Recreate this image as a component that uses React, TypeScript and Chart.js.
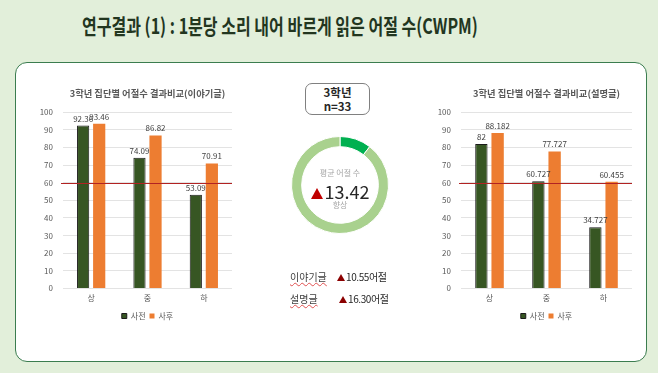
import React, { useEffect, useRef } from "react";
import { Chart, registerables } from "chart.js";
Chart.register(...registerables);

const pageTitle = "연구결과 (1) : 1분당 소리 내어 바르게 읽은 어절 수(CWPM)";
const categories = ["상", "중", "하"];
const seriesNames = ["사전", "사후"];
const storyTitle = "3학년 집단별 어절수 결과비교(이야기글)";
const storyPre = [92.36, 74.09, 53.09];
const storyPost = [93.46, 86.82, 70.91];
const expoTitle = "3학년 집단별 어절수 결과비교(설명글)";
const expoPre = [82, 60.727, 34.727];
const expoPost = [88.182, 77.727, 60.455];
const referenceValue = 60;
const yMax = 100;
const yStep = 10;
const gaugeValues = [10.5, 89.5];
const gaugeCenter = ["평균 어절 수", "13.42", "향상"];
const groupText = ["3학년", "n=33"];
const gainRows = [
  ["이야기글", "10.55어절"],
  ["설명글", "16.30어절"],
];

const FONT = "'Noto Sans CJK KR', 'Noto Sans', sans-serif";
const DARK = "#375623";
const ORANGE = "#ED7D31";

const valueLabelPlugin = {
  id: "valueLabels",
  afterDatasetsDraw(chart: any) {
    const ctx = chart.ctx;
    ctx.save();
    ctx.font = `8px ${FONT}`;
    ctx.fillStyle = "#404040";
    ctx.textAlign = "center";
    ctx.textBaseline = "bottom";
    chart.data.datasets.forEach((ds: any, i: number) => {
      const meta = chart.getDatasetMeta(i);
      meta.data.forEach((bar: any, j: number) => {
        ctx.fillText(String(ds.data[j]), bar.x, bar.y - 3);
      });
    });
    ctx.restore();
  },
};

const refLinePlugin = {
  id: "refLine",
  afterDatasetsDraw(chart: any) {
    const { ctx, chartArea, scales } = chart;
    const y = Math.round(scales.y.getPixelForValue(referenceValue)) + 0.5;
    ctx.save();
    ctx.strokeStyle = "#B22222";
    ctx.lineWidth = 1;
    ctx.beginPath();
    ctx.moveTo(chartArea.left - 2, y);
    ctx.lineTo(chartArea.right, y);
    ctx.stroke();
    ctx.restore();
  },
};

const CH_W = 220;
const CH_H = 252;

function BarChart(props: { title: string; pre: number[]; post: number[]; left: number; top: number; yw: number }) {
  const ref = useRef<HTMLCanvasElement>(null);
  useEffect(() => {
    const chart = new Chart(ref.current!, {
      type: "bar",
      data: {
        labels: categories,
        datasets: [
          {
            label: seriesNames[0],
            data: props.pre,
            backgroundColor: DARK,
            borderColor: "#1a1a1a",
            borderWidth: 1,
            categoryPercentage: 0.57,
            barPercentage: 0.76,
          },
          {
            label: seriesNames[1],
            data: props.post,
            backgroundColor: ORANGE,
            borderWidth: 0,
            categoryPercentage: 0.57,
            barPercentage: 0.76,
          },
        ],
      },
      options: {
        responsive: false,
        animation: false,
        layout: { padding: { left: 0, right: 8, top: 0, bottom: 0 } },
        plugins: {
          tooltip: { enabled: false },
          title: {
            display: true,
            fullSize: false,
            text: props.title,
            color: "#595959",
            font: { family: FONT, size: 9.3, weight: "bold" },
            padding: { top: 10, bottom: 13 },
          },
          legend: {
            position: "bottom",
            fullSize: false,
            labels: {
              boxWidth: 5,
              boxHeight: 5,
              padding: 4,
              color: "#595959",
              font: { family: FONT, size: 8 },
            },
          },
        },
        scales: {
          x: {
            grid: { display: false, drawTicks: false },
            border: { display: false },
            ticks: { color: "#595959", font: { family: FONT, size: 8 }, padding: 5 },
          },
          y: {
            min: 0,
            max: yMax,
            grid: { color: "#e3e3e3", drawTicks: false },
            border: { display: false },
            ticks: { stepSize: yStep, color: "#595959", font: { family: FONT, size: 8 }, padding: 10 },
            afterFit(scale: any) {
              scale.width = props.yw;
            },
          },
        },
      },
      plugins: [valueLabelPlugin, refLinePlugin],
    } as any);
    return () => chart.destroy();
  }, []);
  return (
    <canvas
      ref={ref}
      width={CH_W}
      height={CH_H}
      style={{ position: "absolute", left: props.left, top: props.top, width: CH_W, height: CH_H }}
    />
  );
}

function Gauge() {
  const ref = useRef<HTMLCanvasElement>(null);
  useEffect(() => {
    const chart = new Chart(ref.current!, {
      type: "doughnut",
      data: {
        labels: ["향상", ""],
        datasets: [
          {
            data: gaugeValues,
            backgroundColor: ["#00B050", "#A9D18E"],
            borderColor: "#ffffff",
            borderWidth: 1,
          },
        ],
      },
      options: {
        responsive: false,
        animation: false,
        cutout: "79%",
        plugins: { legend: { display: false }, tooltip: { enabled: false } },
      },
    } as any);
    return () => chart.destroy();
  }, []);
  return (
    <canvas
      ref={ref}
      width={98}
      height={98}
      style={{ position: "absolute", left: 291, top: 136, width: 98, height: 98 }}
    />
  );
}

function Tri(props: { w: number; h: number; color: string; style?: any }) {
  return (
    <span
      style={{
        display: "inline-block",
        width: 0,
        height: 0,
        borderLeft: `${props.w / 2}px solid transparent`,
        borderRight: `${props.w / 2}px solid transparent`,
        borderBottom: `${props.h}px solid ${props.color}`,
        ...props.style,
      }}
    />
  );
}

export default function App() {
  const titleRef = useRef<HTMLDivElement>(null);
  useEffect(() => {
    const el = titleRef.current!;
    const w = el.scrollWidth;
    el.style.transform = `scaleX(${396 / w})`;
  }, []);
  return (
    <div
      style={{
        position: "fixed",
        left: 0,
        top: 0,
        width: 658,
        height: 373,
        background: "#E2EFDA",
        overflow: "hidden",
        fontFamily: FONT,
      }}
    >
      <div
        ref={titleRef}
        style={{
          position: "absolute",
          left: 82,
          top: 10,
          whiteSpace: "nowrap",
          fontSize: 21,
          lineHeight: "30px",
          fontWeight: "bold",
          color: "#22361F",
          transformOrigin: "left top",
        }}
      >
        {pageTitle}
      </div>
      <div
        style={{
          position: "absolute",
          left: 15,
          top: 62,
          width: 632,
          height: 300,
          boxSizing: "border-box",
          background: "#ffffff",
          border: "1.5px solid #3B7D4F",
          borderRadius: 12,
        }}
      />
      <BarChart title={storyTitle} pre={storyPre} post={storyPost} left={20} top={78} yw={43} />
      <BarChart title={expoTitle} pre={expoPre} post={expoPost} left={420} top={78} yw={41} />
      <div
        style={{
          position: "absolute",
          left: 305,
          top: 83,
          width: 65,
          height: 32,
          boxSizing: "border-box",
          border: "1px solid #808080",
          borderRadius: 7,
          textAlign: "center",
          fontWeight: "bold",
          fontSize: 11.5,
          lineHeight: "14px",
          color: "#262626",
          paddingTop: 1,
        }}
      >
        <div>{groupText[0]}</div>
        <div>{groupText[1]}</div>
      </div>
      <Gauge />
      <div
        style={{
          position: "absolute",
          left: 290,
          top: 167,
          width: 100,
          textAlign: "center",
          fontSize: 8,
          lineHeight: "12px",
          color: "#A6A6A6",
        }}
      >
        {gaugeCenter[0]}
      </div>
      <div
        style={{
          position: "absolute",
          left: 290,
          top: 179,
          width: 100,
          textAlign: "center",
          fontSize: 18,
          lineHeight: "24px",
          color: "#262626",
          whiteSpace: "nowrap",
        }}
      >
        <Tri w={13} h={11} color="#C00000" style={{ marginRight: 2, verticalAlign: "0px" }} />
        {gaugeCenter[1]}
      </div>
      <div
        style={{
          position: "absolute",
          left: 290,
          top: 199,
          width: 100,
          textAlign: "center",
          fontSize: 8,
          lineHeight: "12px",
          color: "#A6A6A6",
        }}
      >
        {gaugeCenter[2]}
      </div>
      {gainRows.map((row, i) => (
        <React.Fragment key={i}>
          <div
            style={{
              position: "absolute",
              left: 290,
              top: 269 + i * 22,
              fontSize: 10,
              lineHeight: "16px",
              color: "#404040",
              textDecoration: "underline wavy #E05050",
              textDecorationThickness: "1px",
              whiteSpace: "nowrap",
            }}
          >
            {row[0]}
          </div>
          <div
            style={{
              position: "absolute",
              left: 337 + i * 2,
              top: 269 + i * 22,
              fontSize: 10,
              lineHeight: "16px",
              color: "#262626",
              whiteSpace: "nowrap",
              letterSpacing: -0.4,
            }}
          >
            <Tri w={8} h={7} color="#8B0000" style={{ marginRight: 1 }} />
            {row[1]}
          </div>
        </React.Fragment>
      ))}
    </div>
  );
}
